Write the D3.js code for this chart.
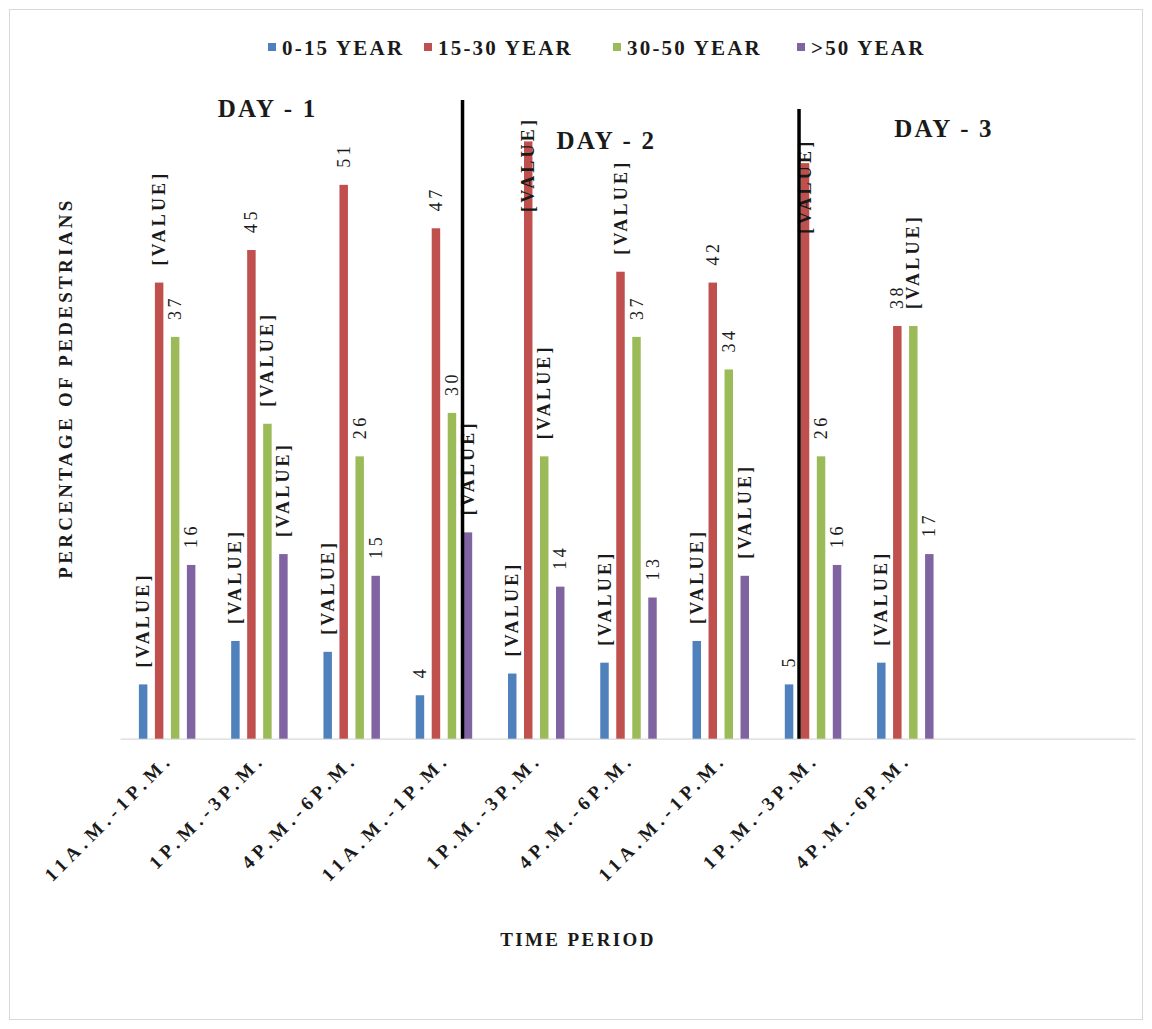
<!DOCTYPE html>
<html>
<head>
<meta charset="utf-8">
<script src="https://cdn.jsdelivr.net/npm/d3@7"></script>
<style>
  html, body { margin: 0; padding: 0; background: #ffffff; }
  svg { display: block; }
  svg text { font-family: "Liberation Serif", "Times New Roman", serif; }
</style>
</head>
<body>
<svg id="chart" width="1152" height="1029"></svg>
<script>
// Time periods observed on each of the three days
const categories = [
  "11A.M.-1P.M.", "1P.M.-3P.M.", "4P.M.-6P.M.",
  "11A.M.-1P.M.", "1P.M.-3P.M.", "4P.M.-6P.M.",
  "11A.M.-1P.M.", "1P.M.-3P.M.", "4P.M.-6P.M."
];
const seriesNames = ["0-15 YEAR", "15-30 YEAR", "30-50 YEAR", ">50 YEAR"];
const seriesColors = ["#4f81bd", "#c0504d", "#9bbb59", "#8064a2"];

// Percentage of pedestrians by age group
const age0to15  = [5, 9, 8, 4, 6, 7, 9, 5, 7];
const age15to30 = [42, 45, 51, 47, 55, 43, 42, 53, 38];
const age30to50 = [37, 29, 26, 30, 26, 37, 34, 26, 38];
const age50plus = [16, 17, 15, 19, 14, 13, 15, 16, 17];

// Whether each data label prints its number (true) or the "[VALUE]" placeholder (false)
const labelNum0to15  = [false, false, false, true, false, false, false, true, false];
const labelNum15to30 = [false, true, true, true, false, false, true, false, true];
const labelNum30to50 = [true, false, true, true, false, true, true, true, false];
const labelNum50plus = [true, false, true, false, true, true, false, true, true];

const dayLabels = ["DAY - 1", "DAY - 2", "DAY - 3"];
const yTitle = "PERCENTAGE OF PEDESTRIANS";
const xTitle = "TIME PERIOD";

const seriesValues = [age0to15, age15to30, age30to50, age50plus];
const seriesLabelNum = [labelNum0to15, labelNum15to30, labelNum30to50, labelNum50plus];

const SERIF = "'Liberation Serif', 'Times New Roman', serif";
const svg = d3.select("#chart");

// outer chart frame
svg.append("rect")
  .attr("x", 9.5).attr("y", 9.5).attr("width", 1133).attr("height", 1010)
  .attr("fill", "none").attr("stroke", "#d9d9d9").attr("stroke-width", 1);

// plot geometry
const plotLeft = 120, plotRight = 1135, plotTop = 87.1, baseY = 738.7;
const slotCount = 11;

const x = d3.scaleBand().domain(d3.range(slotCount)).range([plotLeft, plotRight]).padding(0);
const xSlot = d3.scaleLinear().domain([0, slotCount]).range([plotLeft, plotRight]);
const x1 = d3.scaleBand().domain(d3.range(seriesNames.length)).range([0, 64])
  .paddingInner(0.47).paddingOuter(0.235);
const y = d3.scaleLinear().domain([0, 60]).range([baseY, plotTop]);

// flatten into bar records
const bars = [];
seriesValues.forEach((vals, s) => {
  vals.forEach((v, i) => {
    bars.push({ s, i, v, num: seriesLabelNum[s][i] });
  });
});
const barX = d => x(d.i) + x.bandwidth() / 2 - 32 + 1 + x1(d.s);

// x axis
const xAxis = d3.axisBottom(x).tickSize(0).tickFormat(i => categories[i] || "");
const gx = svg.append("g").attr("transform", `translate(0,${baseY})`).call(xAxis);
gx.attr("font-family", SERIF);
gx.select(".domain").attr("stroke", "#d9d9d9").attr("stroke-width", 1.2);
gx.selectAll(".tick text")
  .attr("font-family", SERIF)
  .attr("font-size", 19)
  .attr("font-weight", "bold")
  .attr("fill", "#1a1a1a")
  .style("letter-spacing", "5px")
  .attr("text-anchor", "end")
  .attr("dy", 0)
  .attr("y", 0)
  .attr("transform", "translate(8,22) rotate(-45)");

// bars
svg.append("g").selectAll("rect").data(bars).join("rect")
  .attr("x", barX)
  .attr("y", d => y(d.v))
  .attr("width", x1.bandwidth())
  .attr("height", d => baseY - y(d.v))
  .attr("fill", d => seriesColors[d.s]);

// rotated data labels
const labelGap = 17;
const lbl = svg.append("g").selectAll("text").data(bars).join("text")
  .text(d => d.num ? String(d.v) : "[VALUE]")
  .attr("font-family", SERIF)
  .attr("font-size", 18)
  .attr("font-weight", d => d.num ? "normal" : "bold")
  .style("letter-spacing", d => d.num ? "3.5px" : "3.2px")
  .attr("fill", "#1a1a1a")
  .attr("text-anchor", "start");
lbl.each(function(d) {
  const len = this.getComputedTextLength();
  const cx = barX(d) + x1.bandwidth() / 2 + 6;
  let bottom = y(d.v) - labelGap;
  // labels that would run past the top of the plot sit across the bar end
  if (bottom - len < plotTop) bottom = y(d.v) + 23 + len / 2;
  d3.select(this).attr("transform", `translate(${cx},${bottom}) rotate(-90)`);
});

// day separators
const dividers = [{ slot: 3.712, top: 100 }, { slot: 7.359, top: 109 }];
svg.append("g").selectAll("line").data(dividers).join("line")
  .attr("x1", d => xSlot(d.slot)).attr("x2", d => xSlot(d.slot))
  .attr("y1", d => d.top).attr("y2", baseY)
  .attr("stroke", "#000").attr("stroke-width", 3.5);

// day headings
const dayPos = [{ slot: 1.60, y: 117 }, { slot: 5.27, y: 149 }, { slot: 8.93, y: 137 }];
svg.append("g").selectAll("text").data(dayLabels).join("text")
  .text(d => d)
  .attr("x", (d, i) => xSlot(dayPos[i].slot))
  .attr("y", (d, i) => dayPos[i].y)
  .attr("text-anchor", "middle")
  .attr("font-family", SERIF)
  .attr("font-size", 25)
  .attr("font-weight", "bold")
  .style("letter-spacing", "2.2px")
  .attr("fill", "#1a1a1a");

// axis titles
svg.append("text").text(xTitle)
  .attr("x", 578).attr("y", 946)
  .attr("text-anchor", "middle")
  .attr("font-family", SERIF)
  .attr("font-size", 19).attr("font-weight", "bold")
  .style("letter-spacing", "2.4px")
  .attr("fill", "#1a1a1a");

svg.append("text").text(yTitle)
  .attr("transform", "translate(72,388) rotate(-90)")
  .attr("text-anchor", "middle")
  .attr("font-family", SERIF)
  .attr("font-size", 19).attr("font-weight", "bold")
  .style("letter-spacing", "3.3px")
  .attr("fill", "#1a1a1a");

// legend
const legendX = [268, 424, 613, 797];
const leg = svg.append("g").selectAll("g").data(seriesNames).join("g")
  .attr("transform", (d, i) => `translate(${legendX[i]},0)`);
leg.append("rect").attr("x", 0).attr("y", 43).attr("width", 8).attr("height", 8)
  .attr("fill", (d, i) => seriesColors[i]);
leg.append("text").text(d => d)
  .attr("x", 14).attr("y", 55)
  .attr("font-family", SERIF)
  .attr("font-size", 21).attr("font-weight", "bold")
  .style("letter-spacing", "2.2px")
  .attr("fill", "#1a1a1a");
</script>
</body>
</html>
